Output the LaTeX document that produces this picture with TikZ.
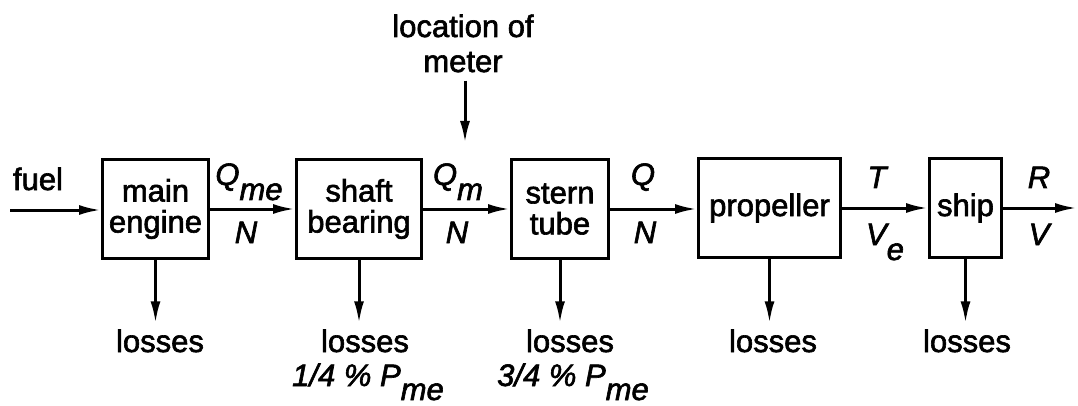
\documentclass[tikz,border=0pt]{standalone}
\usepackage{fontspec}
\setmainfont{Liberation Sans}[FakeBold=2]
\usetikzlibrary{arrows.meta}
\newcommand\lowsub[2][15pt]{\raisebox{-#1}{#2}}
\begin{document}
\begin{tikzpicture}[x=1pt,y=-1pt,
  font=\fontsize{31}{31}\selectfont,
  blk/.style={draw, line width=3pt, minimum height=98pt, inner sep=0pt, align=center},
  flow/.style={line width=3pt, -{Latex[length=22pt,width=10pt]}},
  lbl/.style={anchor=base, inner sep=0pt}]
\useasboundingbox (0,0) rectangle (1078,406);

% blocks
\node[blk, minimum width=106pt] (me) at (155.5,209) {main\\engine};
\node[blk, minimum width=125pt] (sb) at (359,209) {shaft\\bearing};
\node[blk, minimum width=97pt]  (st) at (560,209) {stern\\tube};
\node[blk, minimum width=142pt, minimum height=99pt] (pr) at (769.5,208) {propeller};
\node[blk, minimum width=72pt,  minimum height=99pt] (sh) at (965.5,208) {ship};

% input / output
\coordinate (fuelstart) at (10,210);
\coordinate (out) at (1077,208);
\node[lbl] (fuel) at (38,190) {fuel};
\draw[flow] (fuelstart) -- (fuelstart -| me.west);
\draw[flow] (me.east) -- (sb.west);
\draw[flow] (sb.east) -- (st.west);
\draw[flow] (st.east) -- (st.east -| pr.west);
\draw[flow] (pr.east) -- (sh.west);
\draw[flow] (sh.east) -- (out);

% flow labels
\node[lbl] (qme) at (249,185) {\itshape Q\lowsub{me}};
\node[lbl] (n1)  at (246,243) {\itshape N};
\node[lbl] (qm)  at (458,185) {\itshape Q\lowsub{m}};
\node[lbl] (n2)  at (457,243) {\itshape N};
\node[lbl] (q)   at (643,185) {\itshape Q};
\node[lbl] (n3)  at (645,243) {\itshape N};
\node[lbl] (t)   at (877,188) {\itshape T};
\node[lbl] (ve)  at (885,245) {\itshape V\lowsub{e}};
\node[lbl] (r)   at (1039,188) {\itshape R};
\node[lbl] (v)   at (1039,245) {\itshape V};

% meter
\node[lbl] (loc)   at (463,37) {location of};
\node[lbl] (meter) at (463,72) {meter};
\coordinate (mtip) at (465,143);
\draw[flow, shorten <=8pt] (meter.south -| mtip) -- (mtip);

% losses
\node[lbl] (l1) at (160,352) {losses};
\node[lbl] (l2) at (365,352) {losses};
\node[lbl] (l3) at (570,352) {losses};
\node[lbl] (l4) at (773,352) {losses};
\node[lbl] (l5) at (967,352) {losses};
\node[lbl] (p2) at (368,386) {\itshape 1/4 \% P\lowsub[14pt]{me}};
\node[lbl] (p3) at (573,386) {\itshape 3/4 \% P\lowsub[14pt]{me}};

\foreach \b/\l in {me/l1, sb/l2, st/l3, pr/l4, sh/l5}
  \draw[flow, shorten >=6pt] (\b.south) -- (\b.south |- \l.north);
\end{tikzpicture}
\end{document}
